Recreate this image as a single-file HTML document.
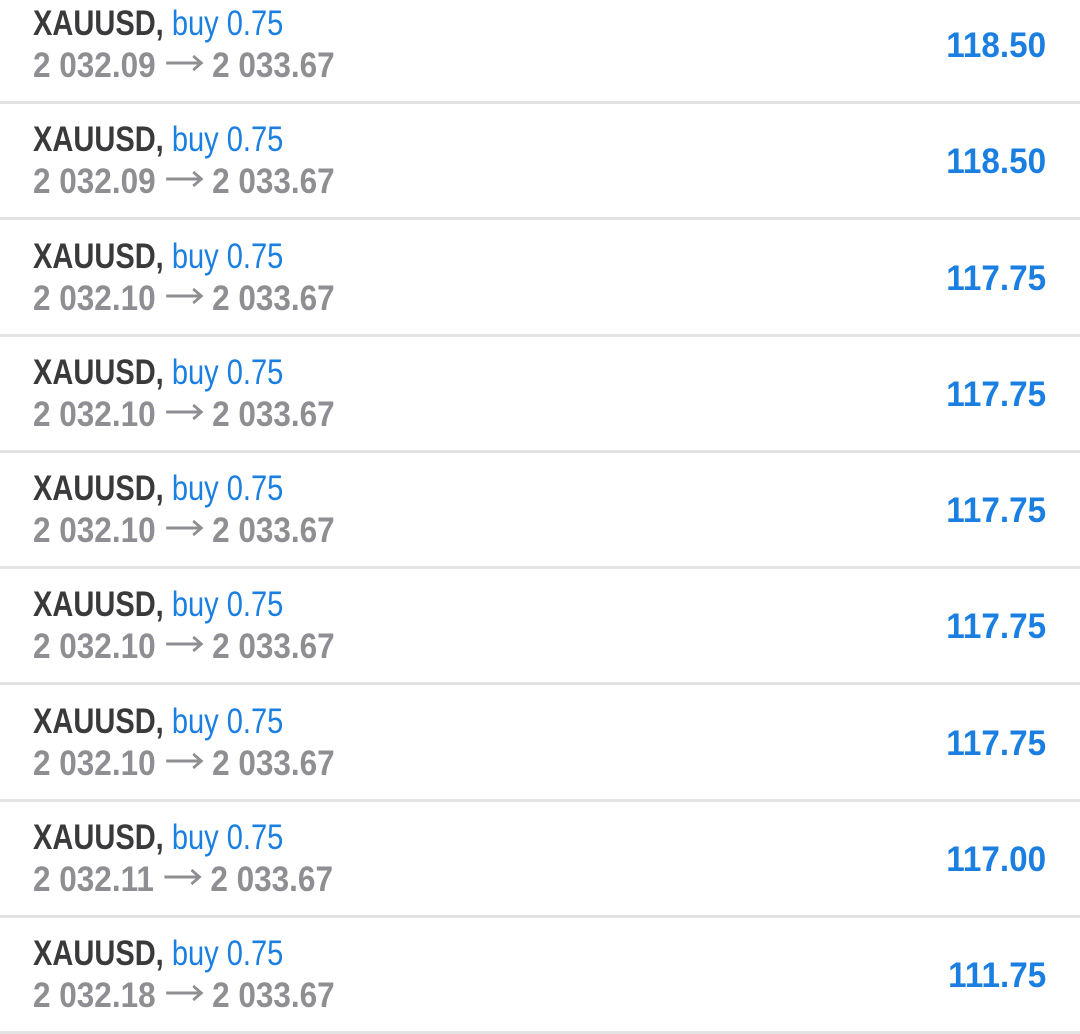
<!DOCTYPE html>
<html><head><meta charset="utf-8">
<style>
html,body{margin:0;padding:0;width:1080px;height:1033px;background:#fff;overflow:hidden;font-family:"Liberation Sans",sans-serif;}
.row{position:absolute;left:0;width:1080px;height:116px;}
.sep{position:absolute;left:0;width:1080px;height:3px;background:#e3e3e3;}
.l1,.l2,.val{position:absolute;white-space:nowrap;font-size:35px;line-height:1;}
.l1{left:33px;top:21px;transform:scaleX(0.83);transform-origin:left;}
.l2{left:33px;top:63px;transform:scaleX(0.9);transform-origin:left;color:#8e8e93;font-weight:bold;}
.arr{display:inline-block;width:44px;height:20px;vertical-align:4px;margin:0 9px 0 0;}
.sym{color:#3a3a3c;font-weight:bold;}
.buy{color:#1a7fe0;}
.val{right:34px;top:43px;transform:scaleX(0.95);transform-origin:right;color:#1a7fe0;font-weight:bold;}
</style></head><body>
<div id="list"></div>
<script>
const opens=["2 032.09","2 032.09","2 032.10","2 032.10","2 032.10","2 032.10","2 032.10","2 032.11","2 032.18"];
const closes=["2 033.67","2 033.67","2 033.67","2 033.67","2 033.67","2 033.67","2 033.67","2 033.67","2 033.67"];
const profits=["118.50","118.50","117.75","117.75","117.75","117.75","117.75","117.00","111.75"];
const arrowSvg='<svg class="arr" viewBox="0 0 44 20"><path d="M2 10H40M32 3L41 10L32 17" fill="none" stroke="#8e8e93" stroke-width="3"/></svg>';
const list=document.getElementById('list');
for(let i=0;i<profits.length;i++){
  const top=-15+i*116.25;
  const r=document.createElement('div');
  r.className='row';r.style.top=top+'px';
  
  
  r.innerHTML='<div class="l1"><span class="sym">XAUUSD,</span> <span class="buy">buy 0.75</span></div>'+
    '<div class="l2">'+opens[i]+' '+arrowSvg+closes[i]+'</div>'+
    '<div class="val">'+profits[i]+'</div>';
  list.appendChild(r);
  const s=document.createElement('div');
  s.className='sep';s.style.top=(top+116)+'px';
  
  
  list.appendChild(s);
}
</script>
</body></html>
